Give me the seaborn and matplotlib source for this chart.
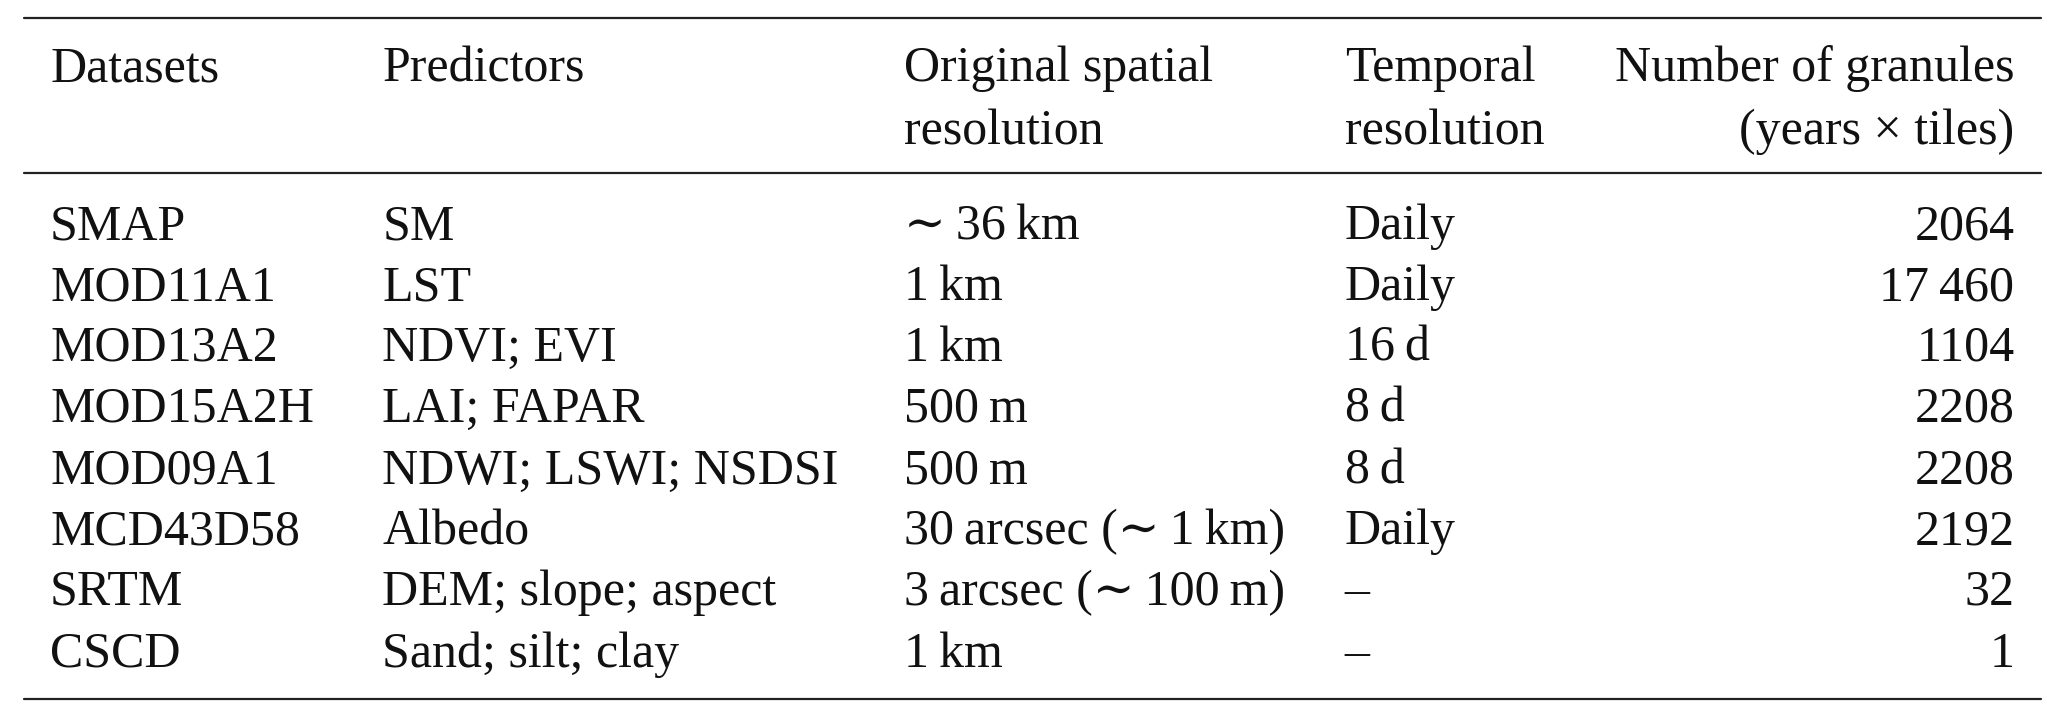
import matplotlib
matplotlib.use("Agg")
import matplotlib.pyplot as plt
import seaborn as sns

sns.set_theme(style="white")
plt.rcParams['font.family'] = ['Liberation Serif', 'DejaVu Serif']

headers = [["Datasets", ""], ["Predictors", ""], ["Original spatial", "resolution"],
           ["Temporal", "resolution"], ["Number of granules", "(years \u00d7 tiles)"]]
datasets = ["SMAP", "MOD11A1", "MOD13A2", "MOD15A2H", "MOD09A1", "MCD43D58", "SRTM", "CSCD"]
predictors = ["SM", "LST", "NDVI; EVI", "LAI; FAPAR", "NDWI; LSWI; NSDSI", "Albedo",
              "DEM; slope; aspect", "Sand; silt; clay"]
spatial = ["\u223c\u200936\u2009km", "1\u2009km", "1\u2009km", "500\u2009m", "500\u2009m",
           "30\u2009arcsec (\u223c\u20091\u2009km)", "3\u2009arcsec (\u223c\u2009100\u2009m)", "1\u2009km"]
temporal = ["Daily", "Daily", "16\u2009d", "8\u2009d", "8\u2009d", "Daily", "\u2013", "\u2013"]
granules = ["2064", "17\u2009460", "1104", "2208", "2208", "2192", "32", "1"]

W, H = 1568, 545
fig = plt.figure(figsize=(20.67, 7.19), dpi=100)
ax = fig.add_axes([0, 0, 1, 1])
ax.set_xlim(0, W); ax.set_ylim(H, 0); ax.axis("off")

col_x = [38, 290, 686, 1020, 1528]
fs = 36
for i, h in enumerate(headers):
    for j, line in enumerate(h):
        if not line: continue
        y = 48 + j * 48
        ha = "right" if i == 4 else "left"
        ax.text(col_x[i], y, line, ha=ha, va="center_baseline", fontsize=fs, color="#111")

row_y = [168, 214, 260, 306, 353, 399, 445, 492]
cols = [datasets, predictors, spatial, temporal, granules]
for i, col in enumerate(cols):
    for r, val in enumerate(col):
        ha = "right" if i == 4 else "left"
        ax.text(col_x[i], row_y[r], val, ha=ha, va="center_baseline", fontsize=fs, color="#111")

for y in (14, 131, 530):
    ax.plot([18, 1548], [y, y], color="#222", lw=1.6)

fig.savefig("out.png", dpi=100)
